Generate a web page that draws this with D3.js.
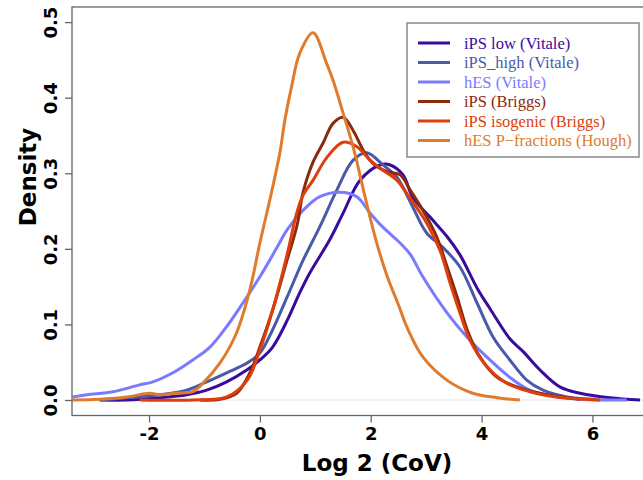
<!DOCTYPE html>
<html>
<head>
<meta charset="utf-8">
<script src="https://cdn.jsdelivr.net/npm/d3@7"></script>
<style>
body { margin: 0; background: #fff; }
svg { display: block; }
</style>
</head>
<body>
<svg id="chart" width="643" height="480"></svg>
<script>
// density curves, [log2 CoV, density]
const ipsLowVitale = [[-2.89,0.0],[-2.40,0.0],[-1.81,0.003],[-1.32,0.007],[-0.96,0.013],[-0.60,0.024],[-0.23,0.040],[0.0,0.053],[0.23,0.070],[0.51,0.108],[0.72,0.142],[0.90,0.168],[1.26,0.212],[1.50,0.247],[1.81,0.291],[2.17,0.311],[2.35,0.311],[2.58,0.298],[2.76,0.268],[3.07,0.242],[3.38,0.216],[3.61,0.192],[3.92,0.148],[4.15,0.121],[4.51,0.081],[4.75,0.064],[5.05,0.040],[5.42,0.017],[5.78,0.009],[6.32,0.003],[6.86,0.0]];
const ipsHighVitale = [[-2.89,0.0],[-2.40,0.003],[-1.81,0.007],[-1.32,0.013],[-0.96,0.024],[-0.60,0.036],[-0.23,0.049],[0.0,0.062],[0.23,0.093],[0.49,0.136],[0.78,0.185],[1.08,0.229],[1.39,0.278],[1.68,0.317],[1.93,0.327],[2.22,0.311],[2.47,0.295],[2.76,0.255],[3.01,0.221],[3.30,0.202],[3.61,0.176],[3.92,0.128],[4.21,0.083],[4.51,0.053],[4.82,0.026],[5.11,0.013],[5.54,0.004],[6.08,0.001]];
const hesVitale = [[-3.38,0.004],[-3.12,0.007],[-2.65,0.011],[-2.17,0.020],[-1.93,0.024],[-1.57,0.036],[-1.21,0.053],[-0.90,0.070],[-0.60,0.097],[-0.31,0.128],[0.0,0.163],[0.31,0.202],[0.49,0.225],[0.78,0.251],[1.08,0.269],[1.44,0.275],[1.75,0.269],[1.99,0.247],[2.20,0.230],[2.47,0.212],[2.71,0.193],[2.94,0.163],[3.38,0.115],[3.74,0.083],[4.15,0.053],[4.51,0.030],[4.87,0.013],[5.29,0.005],[5.78,0.001],[6.62,0.0]];
const ipsBriggs = [[-1.08,0.0],[-0.72,0.001],[-0.42,0.009],[-0.18,0.036],[0.0,0.070],[0.23,0.119],[0.49,0.185],[0.67,0.231],[0.78,0.275],[0.96,0.315],[1.14,0.340],[1.32,0.366],[1.50,0.374],[1.68,0.357],[1.86,0.331],[2.04,0.313],[2.29,0.302],[2.53,0.298],[2.71,0.278],[2.94,0.251],[3.19,0.216],[3.38,0.176],[3.56,0.136],[3.74,0.093],[3.97,0.057],[4.28,0.030],[4.69,0.016],[5.18,0.007],[5.78,0.001]];
const ipsIsoBriggs = [[-2.17,0.0],[-1.21,0.0],[-0.60,0.004],[-0.23,0.026],[0.0,0.066],[0.23,0.119],[0.49,0.192],[0.67,0.249],[0.78,0.271],[0.96,0.291],[1.21,0.321],[1.50,0.341],[1.75,0.335],[1.99,0.317],[2.22,0.304],[2.47,0.291],[2.71,0.267],[3.01,0.234],[3.25,0.198],[3.43,0.155],[3.61,0.115],[3.79,0.079],[4.10,0.044],[4.46,0.022],[4.87,0.011],[5.36,0.004],[6.14,0.0]];
const hesHough = [[-3.38,0.0],[-2.89,0.001],[-2.40,0.004],[-1.99,0.009],[-1.81,0.007],[-1.50,0.009],[-1.21,0.011],[-1.03,0.022],[-0.72,0.049],[-0.42,0.089],[-0.18,0.146],[0.0,0.208],[0.18,0.265],[0.36,0.327],[0.45,0.370],[0.57,0.414],[0.72,0.459],[0.96,0.486],[1.20,0.446],[1.32,0.423],[1.50,0.380],[1.70,0.330],[1.90,0.268],[2.10,0.210],[2.30,0.163],[2.50,0.126],[2.65,0.097],[2.94,0.057],[3.38,0.026],[3.84,0.009],[4.28,0.003],[4.69,0.0]];

const seriesNames = ["iPS low (Vitale)", "iPS_high (Vitale)", "hES (Vitale)", "iPS (Briggs)", "iPS isogenic (Briggs)", "hES P\u2212fractions (Hough)"];
const seriesData = [ipsLowVitale, ipsHighVitale, hesVitale, ipsBriggs, ipsIsoBriggs, hesHough];
const seriesColors = ["#3a0c9c", "#4a5aa8", "#7a7aff", "#8c2a0c", "#dd3e0c", "#e07b2e"];
const xTicks = [-2, 0, 2, 4, 6];
const yTicks = [0, 0.1, 0.2, 0.3, 0.4, 0.5];

const svg = d3.select("#chart");
const plotL = 72, plotT = 7, plotB = 415.5, plotR = 680;

const x = d3.scaleLinear().domain([-3.39, 7.58]).range([plotL, plotR]);
const y = d3.scaleLinear().domain([-0.0205, 0.52]).range([plotB, plotT]);

// zero reference line
svg.append("line")
  .attr("x1", plotL).attr("x2", plotR)
  .attr("y1", y(0)).attr("y2", y(0))
  .attr("stroke", "#eeeeee").attr("stroke-width", 1.5);

svg.append("defs").append("clipPath").attr("id", "plotclip")
  .append("rect").attr("x", plotL).attr("y", plotT)
  .attr("width", plotR - plotL).attr("height", plotB - plotT);

const line = d3.line()
  .x(d => x(d[0]))
  .y(d => y(d[1]))
  .curve(d3.curveCatmullRom.alpha(0.5));

svg.append("g").attr("clip-path", "url(#plotclip)")
  .selectAll("path")
  .data(seriesData)
  .join("path")
  .attr("d", d => line(d))
  .attr("fill", "none")
  .attr("stroke", (d, i) => seriesColors[i])
  .attr("stroke-width", 3)
  .attr("stroke-linejoin", "round");

// plot box
svg.append("rect")
  .attr("x", plotL).attr("y", plotT)
  .attr("width", plotR - plotL).attr("height", plotB - plotT)
  .attr("fill", "none").attr("stroke", "#666").attr("stroke-width", 1.3);

// x axis
const xAxis = d3.axisBottom(x).tickValues(xTicks).tickSize(7).tickPadding(5).tickFormat(d => String(d));
const gx = svg.append("g").attr("transform", `translate(0,${plotB})`).call(xAxis);
gx.select(".domain").remove();
gx.selectAll(".tick line").attr("stroke", "#666").attr("stroke-width", 1.3);
gx.selectAll(".tick text")
  .attr("font-family", "DejaVu Sans").attr("font-weight", "bold")
  .attr("font-size", 18).attr("fill", "#000");

// y axis
const yAxis = d3.axisLeft(y).tickValues(yTicks).tickSize(7).tickPadding(0).tickFormat(d3.format(".1f"));
const gy = svg.append("g").attr("transform", `translate(${plotL},0)`).call(yAxis);
gy.select(".domain").remove();
gy.selectAll(".tick line").attr("stroke", "#666").attr("stroke-width", 1.3);
gy.selectAll(".tick text")
  .attr("font-family", "DejaVu Sans").attr("font-weight", "bold")
  .attr("font-size", 18).attr("fill", "#000")
  .attr("text-anchor", "middle")
  .attr("x", 0).attr("dy", 0)
  .attr("transform", "translate(-15,0) rotate(-90)");

// axis titles
svg.append("text")
  .attr("x", 377).attr("y", 471)
  .attr("text-anchor", "middle")
  .attr("font-family", "DejaVu Sans").attr("font-weight", "bold")
  .attr("font-size", 23)
  .text("Log 2 (CoV)");

svg.append("text")
  .attr("transform", "translate(36,177) rotate(-90)")
  .attr("text-anchor", "middle")
  .attr("font-family", "DejaVu Sans").attr("font-weight", "bold")
  .attr("font-size", 23)
  .text("Density");

// legend
const legend = svg.append("g");
legend.append("rect")
  .attr("x", 407).attr("y", 23).attr("width", 232).attr("height", 134)
  .attr("fill", "#fff").attr("stroke", "#888").attr("stroke-width", 1.5);

const items = legend.selectAll("g.item")
  .data(seriesNames)
  .join("g").attr("class", "item")
  .attr("transform", (d, i) => `translate(0,${43 + i * 19.5})`);

items.append("line")
  .attr("x1", 418).attr("x2", 450)
  .attr("stroke", (d, i) => seriesColors[i])
  .attr("stroke-width", 3);

items.append("text")
  .attr("x", 464).attr("y", 5.5)
  .attr("font-family", "Liberation Serif").attr("font-size", 16.5)
  .attr("fill", (d, i) => seriesColors[i])
  .text(d => d);
</script>
</body>
</html>
